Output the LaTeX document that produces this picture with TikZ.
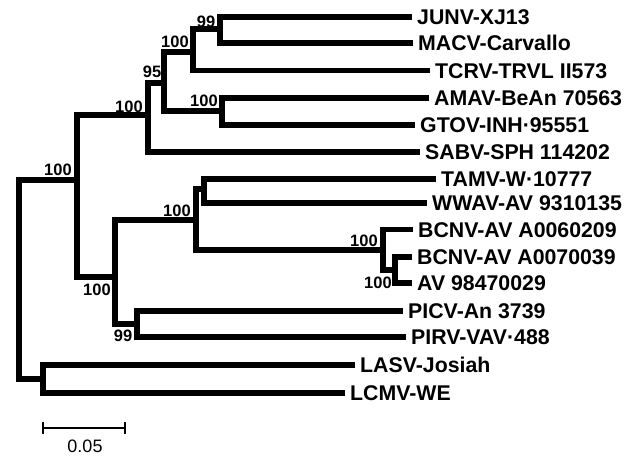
\documentclass[tikz,border=0pt]{standalone}
\usepackage{fontspec}
\setmainfont{Liberation Sans}
\begin{document}
\begin{tikzpicture}[x=1pt,y=-1pt,
  branch/.style={line width=5.3pt,line join=miter},
  tiplabel/.style={anchor=base west,inner sep=0pt,font=\fontsize{21.3}{21.3}\selectfont\bfseries},
  boot/.style={anchor=center,inner sep=0pt,font=\fontsize{16.5}{16.5}\selectfont\bfseries},
  scalebar/.style={line width=2.3pt}]
\useasboundingbox (0,0) rectangle (644,455);
% tips
\coordinate (tJUNV) at (412,17);
\coordinate (tMACV) at (413,43);
\coordinate (tTCRV) at (430,70.5);
\coordinate (tAMAV) at (429,98);
\coordinate (tGTOV) at (415,125);
\coordinate (tSABV) at (420,152);
\coordinate (tTAMV) at (436,179);
\coordinate (tWWAV) at (427,203);
\coordinate (tBC1) at (413,229.5);
\coordinate (tBC2) at (412,257);
\coordinate (tAV) at (412,283);
\coordinate (tPICV) at (403,311);
\coordinate (tPIRV) at (406,337);
\coordinate (tLASV) at (355,365);
\coordinate (tLCMV) at (345,393);
% internal nodes
\coordinate (nJM) at (220,29);
\coordinate (nJMT) at (193,52);
\coordinate (nAG) at (222,111);
\coordinate (nJMTAG) at (164,83);
\coordinate (nS) at (148,115);
\coordinate (nSA) at (77,180);
\coordinate (nTW) at (204,189);
\coordinate (nBCin) at (395,270);
\coordinate (nBC) at (383,250);
\coordinate (nTWB) at (196,220);
\coordinate (nP) at (137,324);
\coordinate (nTWBP) at (115,277);
\coordinate (nL) at (43,379);
\coordinate (root) at (19,280);
% branches
\draw[branch] (tJUNV) -| (nJM) |- (tMACV);
\draw[branch] (nJM) -| (nJMT) |- (tTCRV);
\draw[branch] (tAMAV) -| (nAG) |- (tGTOV);
\draw[branch] (nJMT) -| (nJMTAG) |- (nAG);
\draw[branch] (nJMTAG) -| (nS) |- (tSABV);
\draw[branch] (tTAMV) -| (nTW) |- (tWWAV);
\draw[branch] (tBC2) -| (nBCin) |- (tAV);
\draw[branch] (tBC1) -| (nBC) |- (nBCin);
\draw[branch] (nTW) -| (nTWB) |- (nBC);
\draw[branch] (tPICV) -| (nP) |- (tPIRV);
\draw[branch] (nTWB) -| (nTWBP) |- (nP);
\draw[branch] (nS) -| (nSA) |- (nTWBP);
\draw[branch] (tLASV) -| (nL) |- (tLCMV);
\draw[branch] (nSA) -| (root) |- (nL);
% tip labels
\node[tiplabel] (lJUNV) at ([xshift=5pt,yshift=-7.5pt]tJUNV) {JUNV-XJ13};
\node[tiplabel] (lMACV) at ([xshift=5pt,yshift=-7.5pt]tMACV) {MACV-Carvallo};
\node[tiplabel] (lTCRV) at ([xshift=5pt,yshift=-7.5pt]tTCRV) {TCRV-TRVL II573};
\node[tiplabel] (lAMAV) at ([xshift=5pt,yshift=-7.5pt]tAMAV) {AMAV-BeAn 70563};
\node[tiplabel] (lGTOV) at ([xshift=5pt,yshift=-7.5pt]tGTOV) {GTOV-INH·95551};
\node[tiplabel] (lSABV) at ([xshift=5pt,yshift=-7.5pt]tSABV) {SABV-SPH 114202};
\node[tiplabel] (lTAMV) at ([xshift=5pt,yshift=-7.5pt]tTAMV) {TAMV-W·10777};
\node[tiplabel] (lWWAV) at ([xshift=5pt,yshift=-7.5pt]tWWAV) {WWAV-AV 9310135};
\node[tiplabel] (lBC1) at ([xshift=5pt,yshift=-7.5pt]tBC1) {BCNV-AV A0060209};
\node[tiplabel] (lBC2) at ([xshift=5pt,yshift=-7.5pt]tBC2) {BCNV-AV A0070039};
\node[tiplabel] (lAV) at ([xshift=5pt,yshift=-7.5pt]tAV) {AV 98470029};
\node[tiplabel] (lPICV) at ([xshift=5pt,yshift=-7.5pt]tPICV) {PICV-An 3739};
\node[tiplabel] (lPIRV) at ([xshift=5pt,yshift=-7.5pt]tPIRV) {PIRV-VAV·488};
\node[tiplabel] (lLASV) at ([xshift=5pt,yshift=-7.5pt]tLASV) {LASV-Josiah};
\node[tiplabel] (lLCMV) at ([xshift=5pt,yshift=-7.5pt]tLCMV) {LCMV-WE};
% bootstrap values
\node[boot] (bJM) at (206,22) {99};
\node[boot] (bJMT) at (175,42) {100};
\node[boot] (bJMTAG) at (152,72) {95};
\node[boot] (bAG) at (204,101) {100};
\node[boot] (bS) at (129,107) {100};
\node[boot] (bSA) at (58,170) {100};
\node[boot] (bTWB) at (177,211) {100};
\node[boot] (bTWBP) at (97,290) {100};
\node[boot] (bP) at (123,336) {99};
\node[boot] (bBC) at (364,241) {100};
\node[boot] (bBCin) at (378,283) {100};
% scale bar
\coordinate (sL) at (43,428);
\coordinate (sR) at (125,428);
\draw[scalebar] (sL) -- (sR);
\draw[scalebar] ([yshift=6pt]sL) -- ([yshift=-6pt]sL);
\draw[scalebar] ([yshift=6pt]sR) -- ([yshift=-6pt]sR);
\node[anchor=center,inner sep=0pt,font=\fontsize{18}{18}\selectfont] (sLabel) at (85,446) {0.05};
\end{tikzpicture}
\end{document}
